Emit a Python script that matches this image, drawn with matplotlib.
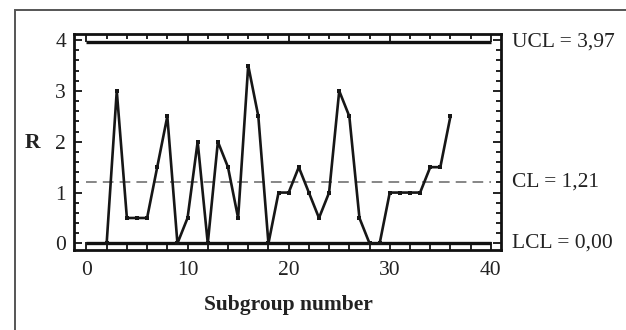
import numpy as np
import matplotlib.pyplot as plt
from matplotlib.patches import Rectangle
from matplotlib.ticker import MultipleLocator

subgroup = np.arange(2, 37)
r_values = [0, 3, 0.5, 0.5, 0.5, 1.5, 2.5, 0, 0.5, 2, 0, 2, 1.5, 0.5, 3.5, 2.5, 0,
            1, 1, 1.5, 1, 0.5, 1, 3, 2.5, 0.5, 0, 0, 1, 1, 1, 1, 1.5, 1.5, 2.5]

ucl = 3.97
cl = 1.21
lcl = 0.0
limit_labels = ['UCL = 3,97', 'CL = 1,21', 'LCL = 0,00']

plt.rcParams['font.family'] = ['Liberation Serif', 'DejaVu Serif']
fs = 15.5

fig = plt.figure(figsize=(6.26, 3.3), dpi=100)
ax = fig.add_axes([74.4 / 626, 1 - 250 / 330, (501 - 74.4) / 626, (250 - 34) / 330])

# outer frame, cut off at right and bottom like the scan
fig.patches.append(Rectangle((14.5 / 626, -0.1), 1.1, 1 - 10 / 330 + 0.1,
                             transform=fig.transFigure, fill=False,
                             edgecolor='#555555', linewidth=1.4))

ax.plot([0, 40], [ucl, ucl], color='#111111', lw=2.4, solid_capstyle='butt')
ax.plot([0, 40], [lcl, lcl], color='#111111', lw=2.4, solid_capstyle='butt')
ax.plot([0, 40], [cl, cl], color='#666666', lw=1.1, dashes=(7, 4))

ax.plot(subgroup, r_values, color='#161616', lw=1.9, marker='s', ms=2.6,
        markerfacecolor='#161616', markeredgewidth=0)

ax.set_xlim(-1.19, 41.0)
ax.set_ylim(-0.13, 4.12)
ax.xaxis.set_major_locator(MultipleLocator(10))
ax.xaxis.set_minor_locator(MultipleLocator(2))
ax.yaxis.set_major_locator(MultipleLocator(1))
ax.yaxis.set_minor_locator(MultipleLocator(0.2))
ax.tick_params(which='both', direction='in', top=True, right=True, width=1.3,
               labelsize=fs, color='#111111', labelcolor='#222222')
ax.tick_params(which='major', length=6)
ax.tick_params(axis='x', which='major', pad=8)
ax.tick_params(axis='y', which='major', pad=6)
ax.tick_params(which='minor', length=3.5)
for s in ax.spines.values():
    s.set_linewidth(2)
    s.set_color('#111111')

fig.text(288.6 / 626, 1 - 305 / 330, 'Subgroup number', fontsize=fs,
         fontweight='bold', ha='center', va='center', color='#222222')
fig.text(32 / 626, 1 - 143 / 330, 'R', fontsize=fs, fontweight='bold',
         ha='center', va='center', color='#222222')

for y, lab in zip([ucl, cl, lcl], limit_labels):
    ax.annotate(lab, xy=(1, y), xycoords=('axes fraction', 'data'),
                xytext=(8, 0), textcoords='offset points',
                fontsize=fs, va='center', ha='left', color='#222222')

plt.savefig('out.png', dpi=100)
